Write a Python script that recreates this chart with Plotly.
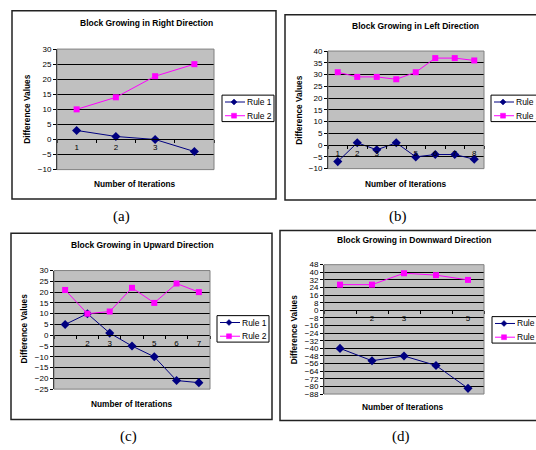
import plotly.graph_objects as go

W, H = 536, 450

# ---------------- data ----------------
a_cats = ["1", "2", "3", "4"]
a_ticks = ["1", "2", "3", ""]
a_rule1 = [3, 1, 0, -4]
a_rule2 = [10, 14, 21, 25]

b_cats = ["1", "2", "3", "4", "5", "6", "7", "8"]
b_ticks = ["1", "2", "3", "", "5", "6", "7", "8"]
b_rule1 = [-7, 1, -2, 1, -5, -4, -4, -6]
b_rule2 = [31, 29, 29, 28, 31, 37, 37, 36]

c_cats = ["1", "2", "3", "4", "5", "6", "7"]
c_ticks = ["", "2", "3", "", "5", "6", "7"]
c_rule1 = [5, 10, 1, -5, -10, -21, -22]
c_rule2 = [21, 10, 11, 22, 15, 24, 20]

d_cats = ["1", "2", "3", "4", "5"]
d_ticks = ["", "2", "3", "", "5"]
d_rule1 = [-40, -53, -48, -58, -82]
d_rule2 = [27, 27, 39, 37, 32]

titles = ["Block Growing in Right Direction", "Block Growing in Left Direction",
          "Block Growing in Upward Direction", "Block Growing in Downward Direction"]
panel_labels = ["(a)", "(b)", "(c)", "(d)"]
series_names = ["Rule 1", "Rule 2"]

# ---------------- layout helpers (pixels) ----------------
FONT = "Liberation Sans, Arial, sans-serif"
NAVY = "#000080"
MAGENTA = "#FF00FF"
colors = [NAVY, MAGENTA]


def px_x(x):
    return x / W


def px_y(y):
    return 1 - y / H


panels = [
    dict(cats=a_cats, ticks=a_ticks, r1=a_rule1, r2=a_rule2, yr=(-10, 30), dt=5,
         plot=(57, 214, 46, 169), border=(12, 276, 7, 199), title=(146, 19),
         xt=(135, 184), yt=(27, 107), lab=(121, 217), leg=(222, 93, 52)),
    dict(cats=b_cats, ticks=b_ticks, r1=b_rule1, r2=b_rule2, yr=(-10, 40), dt=5,
         plot=(328, 484, 48, 168), border=(285, 560, 11, 200), title=(415, 22),
         xt=(406, 184), yt=(299, 108), lab=(398, 217), leg=(491, 93, 70)),
    dict(cats=c_cats, ticks=c_ticks, r1=c_rule1, r2=c_rule2, yr=(-25, 30), dt=5,
         plot=(54, 210, 272, 393), border=(11, 272, 234, 424), title=(142, 246),
         xt=(132, 408), yt=(24, 331), lab=(128, 441), leg=(217, 318, 52)),
    dict(cats=d_cats, ticks=d_ticks, r1=d_rule1, r2=d_rule2, yr=(-88, 48), dt=8,
         plot=(324, 484, 266, 398), border=(280, 560, 231, 425), title=(414, 241),
         xt=(403, 411), yt=(294, 332), lab=(401, 441), leg=(492, 319, 70)),
]

fig = go.Figure()
layout = dict(width=W, height=H, margin=dict(l=0, r=0, t=0, b=0),
              paper_bgcolor="white", plot_bgcolor="#C0C0C0", showlegend=False,
              font=dict(family=FONT, color="black", size=8), shapes=[], annotations=[])

for i, p in enumerate(panels):
    n = "" if i == 0 else str(i + 1)
    xa, ya = "x" + n, "y" + n
    x0, x1, y0, y1 = p["plot"]
    ymin, ymax = p["yr"]
    ydom = [px_y(y1), px_y(y0)]
    zero_pos = ydom[0] + (0 - ymin) / (ymax - ymin) * (ydom[1] - ydom[0])

    fig.add_trace(go.Scatter(x=p["cats"], y=p["r1"], name=series_names[0], mode="lines+markers",
                             line=dict(color=NAVY, width=1),
                             marker=dict(symbol="diamond", size=7, color=NAVY),
                             xaxis=xa, yaxis=ya, cliponaxis=False))
    fig.add_trace(go.Scatter(x=p["cats"], y=p["r2"], name=series_names[1], mode="lines+markers",
                             line=dict(color=MAGENTA, width=1),
                             marker=dict(symbol="square", size=6, color=MAGENTA),
                             xaxis=xa, yaxis=ya, cliponaxis=False))

    layout["xaxis" + n] = dict(domain=[px_x(x0), px_x(x1)], anchor="free", position=zero_pos,
                               type="category", range=[-0.5, len(p["cats"]) - 0.5],
                               tickmode="array", tickvals=p["cats"], ticktext=p["ticks"],
                               tickson="boundaries", ticks="outside", ticklen=3,
                               tickcolor="black", showline=True, linecolor="black", linewidth=1,
                               showgrid=False, zeroline=False, fixedrange=True,
                               tickfont=dict(size=8, family=FONT, color="black"))
    layout["yaxis" + n] = dict(domain=ydom, anchor=xa, range=[ymin, ymax], dtick=p["dt"],
                               tick0=0, ticks="outside", ticklen=3, tickcolor="black",
                               showline=True, linecolor="black", linewidth=1,
                               showgrid=True, gridcolor="black", gridwidth=1, zeroline=False,
                               fixedrange=True,
                               tickfont=dict(size=8, family=FONT, color="black"))

    # plot-area border
    layout["shapes"].append(dict(type="rect", xref=xa + " domain", yref=ya + " domain",
                                 x0=0, x1=1, y0=0, y1=1,
                                 line=dict(color="#808080", width=1), layer="above"))
    # chart border
    bx0, bx1, by0, by1 = p["border"]
    layout["shapes"].append(dict(type="rect", xref="paper", yref="paper",
                                 x0=px_x(bx0), x1=px_x(bx1), y0=px_y(by1), y1=px_y(by0),
                                 line=dict(color="#222222", width=1.5)))

    # legend (box, keys, labels)
    lx, ly, lw = p["leg"]
    layout["shapes"].append(dict(type="rect", xref="paper", yref="paper",
                                 x0=px_x(lx), x1=px_x(lx + lw), y0=px_y(ly + 27), y1=px_y(ly),
                                 line=dict(color="black", width=1), fillcolor="white"))
    for k in range(2):
        ry = ly + 7 + 14 * k
        layout["shapes"].append(dict(type="line", xref="paper", yref="paper",
                                     x0=px_x(lx + 3), x1=px_x(lx + 23), y0=px_y(ry), y1=px_y(ry),
                                     line=dict(color=colors[k], width=1)))
        mx = lx + 12
        if k == 0:
            path = "M {},{} L {},{} L {},{} L {},{} Z".format(
                px_x(mx), px_y(ry - 3), px_x(mx + 3), px_y(ry), px_x(mx), px_y(ry + 3),
                px_x(mx - 3), px_y(ry))
            layout["shapes"].append(dict(type="path", xref="paper", yref="paper", path=path,
                                         fillcolor=NAVY, line=dict(color=NAVY, width=0.5)))
        else:
            layout["shapes"].append(dict(type="rect", xref="paper", yref="paper",
                                         x0=px_x(mx - 2.5), x1=px_x(mx + 2.5),
                                         y0=px_y(ry + 2.5), y1=px_y(ry - 2.5),
                                         fillcolor=MAGENTA, line=dict(color=MAGENTA, width=0.5)))
        layout["annotations"].append(dict(text=series_names[k], x=px_x(lx + 23), y=px_y(ry),
                                          xref="paper", yref="paper", showarrow=False,
                                          xanchor="left", yanchor="middle",
                                          font=dict(size=8.5, family=FONT)))

    tx, ty = p["title"]
    layout["annotations"].append(dict(text="<b>" + titles[i] + "</b>", x=px_x(tx), y=px_y(ty),
                                      xref="paper", yref="paper", showarrow=False,
                                      xanchor="center", yanchor="middle",
                                      font=dict(size=8.5, family=FONT)))
    ax_, ay_ = p["xt"]
    layout["annotations"].append(dict(text="<b>Number of Iterations</b>", x=px_x(ax_), y=px_y(ay_),
                                      xref="paper", yref="paper", showarrow=False,
                                      xanchor="center", yanchor="middle",
                                      font=dict(size=8.3, family=FONT)))
    vx, vy = p["yt"]
    layout["annotations"].append(dict(text="<b>Difference Values</b>", x=px_x(vx), y=px_y(vy),
                                      xref="paper", yref="paper", showarrow=False, textangle=-90,
                                      xanchor="center", yanchor="middle",
                                      font=dict(size=8.3, family=FONT)))
    lbx, lby = p["lab"]
    layout["annotations"].append(dict(text=panel_labels[i], x=px_x(lbx), y=px_y(lby),
                                      xref="paper", yref="paper", showarrow=False,
                                      xanchor="center", yanchor="middle", borderpad=0,
                                      font=dict(size=15, family="Liberation Serif, Times New Roman, serif")))

fig.update_layout(**layout)
fig.write_html("out.html", config={"displayModeBar": False, "staticPlot": True},
               post_script="document.body.style.margin='0';")
